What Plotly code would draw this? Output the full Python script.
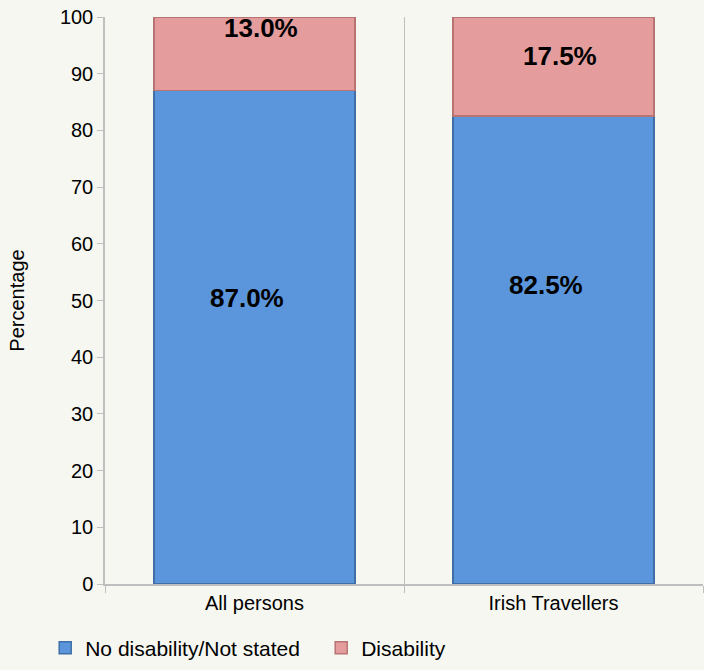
import plotly.graph_objects as go

categories = ["All persons", "Irish Travellers"]
no_disability = [87.0, 82.5]
disability = [13.0, 17.5]
no_dis_labels = ["87.0%", "82.5%"]
dis_labels = ["13.0%", "17.5%"]
no_dis_label_y = [50.5, 52.8]
dis_label_y = [98.0, 93.2]
y_ticks = list(range(0, 101, 10))

FONT = "Liberation Sans, Arial, sans-serif"

fig = go.Figure()
fig.add_trace(go.Bar(
    x=categories, y=no_disability, name="No disability/Not stated",
    marker=dict(color="#5b96dc", line=dict(color="#3f6fa6", width=1.5)),
    width=0.673, hoverinfo="skip"))
fig.add_trace(go.Bar(
    x=categories, y=disability, name="Disability",
    marker=dict(color="#e59c9c", line=dict(color="#b87373", width=1.5)),
    width=0.673, hoverinfo="skip"))

for c, t, yy in zip(categories, no_dis_labels, no_dis_label_y):
    fig.add_annotation(x=c, y=yy, text="<b>%s</b>" % t, showarrow=False, xshift=-8,
                       font=dict(size=26, color="black", family=FONT))
for c, t, yy in zip(categories, dis_labels, dis_label_y):
    fig.add_annotation(x=c, y=yy, text="<b>%s</b>" % t, showarrow=False, xshift=6,
                       font=dict(size=26, color="black", family=FONT))

fig.update_layout(
    barmode="stack",
    width=704, height=670,
    paper_bgcolor="#f6f7f0", plot_bgcolor="#f6f7f0",
    margin=dict(l=105, r=1, t=17, b=86),
    font=dict(family=FONT, size=20, color="black"),
    showlegend=True,
    legend=dict(orientation="h", x=-0.1, y=-0.149, xanchor="left", yanchor="bottom",
                font=dict(size=21), bgcolor="rgba(0,0,0,0)", itemwidth=30,
                traceorder="normal", entrywidth=231),
    xaxis=dict(type="category", tickson="boundaries", ticks="outside", ticklen=7,
               tickcolor="#bfbfbf", showgrid=True, gridcolor="#bfbfbf", gridwidth=1,
               showline=True, linecolor="#bfbfbf", linewidth=1.5,
               tickfont=dict(size=20), range=[-0.5, 1.5]),
    yaxis=dict(range=[0, 100], tickvals=y_ticks, ticks="outside", ticklen=6,
               tickcolor="#bfbfbf", showline=True, linecolor="#bfbfbf", linewidth=1.5,
               showgrid=False, zeroline=False, tickfont=dict(size=20),
               title=dict(text="Percentage", font=dict(size=20), standoff=30)),
)
fig.write_html("out.html", config={"displayModeBar": False},
               post_script="document.body.style.margin='0';")
